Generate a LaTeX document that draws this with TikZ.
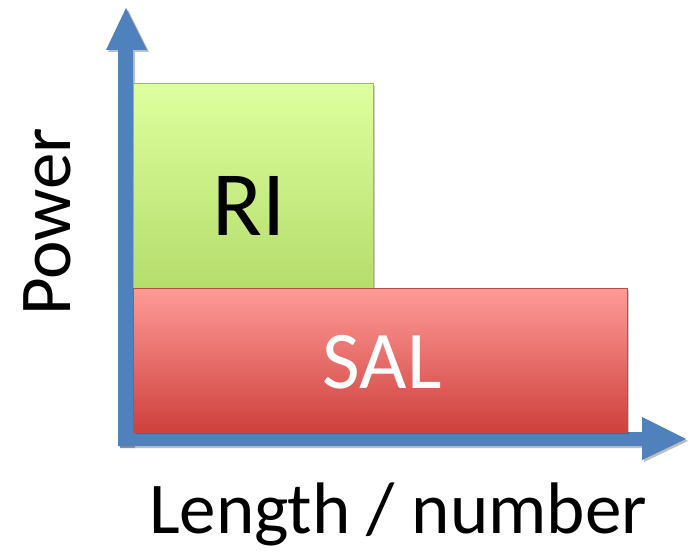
\documentclass[tikz,border=0pt]{standalone}
\usepackage{fontspec}
\setmainfont{Carlito}
\usetikzlibrary{shadows}
\definecolor{axisblue}{RGB}{79,129,189}
\definecolor{greentop}{RGB}{222,255,158}
\definecolor{greenbot}{RGB}{181,221,108}
\definecolor{greenedge}{RGB}{155,187,89}
\definecolor{redtop}{RGB}{255,155,152}
\definecolor{redbot}{RGB}{206,64,60}
\definecolor{rededge}{RGB}{190,75,72}
\tikzset{
  axisarrow/.style={fill=axisblue, draw=none, drop shadow={shadow xshift=2pt, shadow yshift=-2pt, opacity=0.25, fill=black}},
  boxshape/.style={rectangle, inner sep=0pt, line width=1pt, drop shadow={shadow xshift=2pt, shadow yshift=-2pt, opacity=0.2, fill=black}},
  greenbox/.style={boxshape, draw=greenedge, top color=greentop, bottom color=greenbot},
  redbox/.style={boxshape, draw=rededge, top color=redtop, bottom color=redbot},
  bigtext/.style={font=\fontsize{92}{92}\selectfont, inner sep=0pt, anchor=base},
  axislabel/.style={font=\fontsize{73}{73}\selectfont, inner sep=0pt, anchor=base, text=black}
}
\begin{document}
\begin{tikzpicture}[x=1pt,y=1pt]
\useasboundingbox (0,0) rectangle (692,555);
% axes
\coordinate (origin) at (118,109);
\coordinate (ytip) at (126,547);
\coordinate (xtip) at (686,116);
\fill[axisarrow] (origin) -- (118,505) -- (106,505) -- (ytip) -- (147,505) -- (133,505) -- (133,109) -- cycle;
\fill[axisarrow] (origin) -- (118,123) -- (642,123) -- (642,138) -- (xtip) -- (642,95) -- (642,109) -- cycle;
% boxes
\node[greenbox, minimum width=240pt, minimum height=204pt] (ri) at (253,369) {};
\node[redbox, minimum width=494pt, minimum height=144pt] (sal) at (380,195) {};
\node[bigtext, text=black] (rilabel) at (249,320) {RI};
\node[bigtext, text=white, font=\fontsize{82}{82}\selectfont] (sallabel) at (382,167) {SAL};
% axis labels
\node[axislabel] (xlabel) at (398,22) {Length / number};
\node[axislabel, rotate=90] (ylabel) at (70,333) {Power};
\end{tikzpicture}
\end{document}
